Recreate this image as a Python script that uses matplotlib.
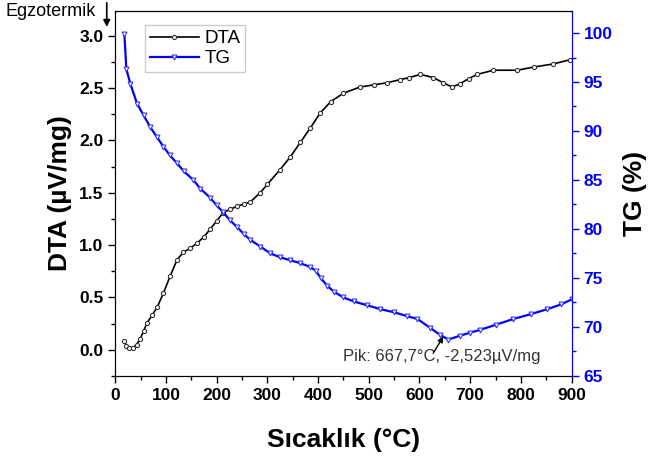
import matplotlib
matplotlib.use("Agg")
import matplotlib.pyplot as plt
from matplotlib.ticker import MultipleLocator

plt.rcParams['font.family'] = ['Liberation Sans', 'DejaVu Sans']

# DTA curve (uV/mg)
dta_t = [18, 22, 27, 35, 42, 49, 56, 63, 73, 83, 95, 108, 122, 134, 148, 162, 175, 187,
         200, 213, 226, 240, 253, 266, 286, 300, 325, 345, 365, 385, 404, 425, 450, 483,
         510, 536, 562, 580, 602, 627, 647, 664, 680, 697, 714, 746, 793, 825, 864, 897]
dta_v = [0.08, 0.04, 0.02, 0.02, 0.05, 0.10, 0.18, 0.26, 0.33, 0.41, 0.54, 0.70, 0.86, 0.93,
         0.97, 1.02, 1.08, 1.15, 1.23, 1.31, 1.34, 1.37, 1.39, 1.41, 1.50, 1.58, 1.72, 1.84,
         1.98, 2.12, 2.26, 2.37, 2.45, 2.51, 2.53, 2.55, 2.58, 2.60, 2.63, 2.60, 2.55, 2.51,
         2.54, 2.59, 2.63, 2.67, 2.67, 2.70, 2.73, 2.77]

# TG curve (%)
tg_t = [18, 22, 30, 43, 56, 69, 82, 95, 108, 122, 135, 154, 168, 187, 200, 213, 226, 240,
        253, 266, 286, 306, 325, 345, 365, 385, 396, 405, 418, 431, 450, 470, 497, 523,
        549, 575, 596, 621, 640, 657, 680, 700, 720, 750, 785, 820, 852, 880, 900]
tg_v = [99.9, 96.3, 94.8, 92.8, 91.6, 90.4, 89.4, 88.4, 87.5, 86.7, 85.9, 85.0, 84.1, 83.2,
        82.4, 81.7, 80.9, 80.2, 79.5, 78.9, 78.2, 77.5, 77.1, 76.8, 76.5, 76.1, 75.7, 75.0,
        74.2, 73.6, 73.0, 72.6, 72.2, 71.8, 71.5, 71.1, 70.8, 69.9, 69.2, 68.7, 69.1, 69.4,
        69.7, 70.2, 70.8, 71.3, 71.8, 72.3, 72.8]

peak_label = "Pik: 667,7°C, -2,523µV/mg"

fig = plt.figure(figsize=(6.51, 4.58), dpi=100)
ax = fig.add_axes([0.177, 0.178, 0.701, 0.799])
ax2 = ax.twinx()

l1, = ax.plot(dta_t, dta_v, color='black', lw=1.2, marker='o', ms=3,
              mfc='white', mec='#333333', mew=0.8, label='DTA')
l2, = ax2.plot(tg_t, tg_v, color='blue', lw=1.6, marker='v', ms=3.5,
               mfc='white', mec='#3333ff', mew=0.8, label='TG')

ax.set_xlim(0, 900)
ax.set_ylim(-0.255, 3.24)
ax2.set_ylim(64.93, 102.3)

ax.xaxis.set_major_locator(MultipleLocator(100))
ax.xaxis.set_minor_locator(MultipleLocator(50))
ax.yaxis.set_major_locator(MultipleLocator(0.5))
ax.yaxis.set_minor_locator(MultipleLocator(0.25))
ax2.yaxis.set_major_locator(MultipleLocator(5))
ax2.yaxis.set_minor_locator(MultipleLocator(2.5))

ax.tick_params(axis='both', which='major', direction='out', length=5, width=1,
               labelsize=12.5, top=False)
ax.tick_params(axis='both', which='minor', direction='out', length=3, width=1, top=False)
ax2.tick_params(axis='y', which='major', direction='out', length=5, width=1,
                colors='blue', labelsize=12.5)
ax2.tick_params(axis='y', which='minor', direction='out', length=3, width=1, colors='blue')
for lab in ax.get_xticklabels() + ax.get_yticklabels() + ax2.get_yticklabels():
    lab.set_fontweight('bold')

ax2.spines['right'].set_color('blue')
ax.set_xticklabels([str(int(v)) for v in ax.get_xticks()])

ax.set_xlabel('Sıcaklık (°C)', fontsize=19, fontweight='bold', labelpad=18)
ax.set_ylabel('DTA (µV/mg)', fontsize=19, fontweight='bold', labelpad=5)
ax2.set_ylabel('TG (%)', fontsize=19, fontweight='bold', labelpad=8)

ax.legend([l1, l2], ['DTA', 'TG'], loc='upper left', bbox_to_anchor=(0.045, 0.985),
          fontsize=13.5, fancybox=False, edgecolor='#cccccc', framealpha=1,
          handlelength=2.6, handletextpad=0.3, borderpad=0.25, labelspacing=0.15)

# peak annotation: text and a short arrow pointing at the TG minimum
ax2.text(643, 67.0, peak_label, fontsize=12, color='#333333', ha='center', va='center')
ax2.annotate('', xy=(647, 69.0), xytext=(627, 67.3),
             arrowprops=dict(arrowstyle='-|>', color='black', lw=1.0, mutation_scale=8,
                             shrinkA=0, shrinkB=0))

fig.text(0.008, 0.975, 'Egzotermik', fontsize=13, ha='left', va='center')
fig.patches.append(matplotlib.patches.FancyArrowPatch(
    (0.164, 1.0), (0.164, 0.935), transform=fig.transFigure, arrowstyle='-|>',
    mutation_scale=10, color='black', lw=1.2))

fig.savefig('out.png', dpi=100)
